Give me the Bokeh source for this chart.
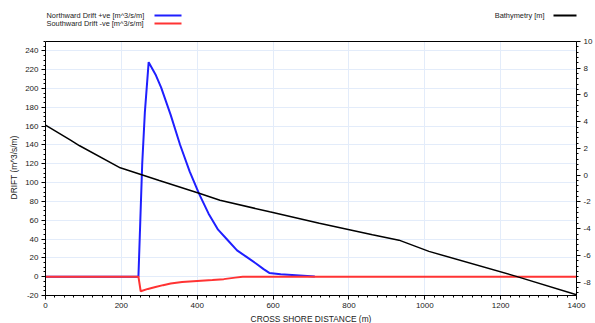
from bokeh.plotting import figure
from bokeh.models import (Range1d, LinearAxis, SingleIntervalTicker, Label, BoxAnnotation,
                          Span, PrintfTickFormatter)
from bokeh.embed import file_html
from bokeh.resources import INLINE

# ---- data ----
north_x = [0, 245, 250, 255, 262, 272, 290, 305, 330, 355, 380, 405, 430, 455, 480, 505, 530, 555, 575, 590, 620, 660, 710]
north_y = [0, 0, 60, 120, 175, 228, 215, 201, 172, 140, 112, 88, 67, 50, 39, 28, 21, 14, 8, 4, 2.5, 1.5, 0.3]

south_x = [0, 245, 251, 270, 290, 310, 330, 360, 400, 440, 470, 500, 520, 1400]
south_y = [0, 0, -15.5, -13, -11, -9, -7.2, -5.6, -4.6, -3.6, -2.6, -1.0, 0, 0]

bathy_x = [0, 66, 90, 197, 300, 407, 460, 591, 722, 862, 932, 1011, 1239, 1400]
bathy_y = [3.74, 2.62, 2.2, 0.55, -0.4, -1.37, -1.87, -2.74, -3.6, -4.45, -4.86, -5.7, -7.55, -8.95]

x_label = "CROSS SHORE DISTANCE (m)"
y_label = "DRIFT (m^3/s/m)"
north_name = "Northward Drift +ve  [m^3/s/m]"
south_name = "Southward Drift -ve  [m^3/s/m]"
bathy_name = "Bathymetry  [m]"

X_MIN, X_MAX = 0, 1400
Y_MIN, Y_MAX = -20, 250
B_MIN, B_MAX = -9, 10

FONT = "Liberation Sans"
GRID = "#e3ecfa"
BLUE = "#1f1fff"
RED = "#ff3333"

# plot box is 254 px tall; the frame is extended upward by 37 px to host the legend
BOX_H = 254
EXTRA = 37
FH = BOX_H + EXTRA
y_top = Y_MAX + EXTRA * (Y_MAX - Y_MIN) / BOX_H
b_top = B_MAX + EXTRA * (B_MAX - B_MIN) / BOX_H

p = figure(width=595, frame_height=FH, output_backend="svg", toolbar_location=None,
           x_range=Range1d(X_MIN, X_MAX), y_range=Range1d(Y_MIN, y_top),
           min_border_left=45, min_border_top=4, min_border_bottom=28, min_border_right=17,
           outline_line_color=None)
p.extra_y_ranges = {"bathy": Range1d(B_MIN, b_top)}

p.xaxis.ticker = SingleIntervalTicker(interval=200, num_minor_ticks=8)
p.yaxis.ticker = SingleIntervalTicker(interval=20, num_minor_ticks=4)
p.yaxis.bounds = (Y_MIN, Y_MAX)

raxis = LinearAxis(y_range_name="bathy", ticker=SingleIntervalTicker(interval=2, num_minor_ticks=5),
                   bounds=(B_MIN, B_MAX))
p.add_layout(raxis, "right")

for ax in [p.xaxis[0], p.yaxis[0], raxis]:
    ax.formatter = PrintfTickFormatter(format="%d")
    ax.major_label_text_font = FONT
    ax.major_label_text_font_size = "8px"
    ax.major_label_text_color = "#222222"
    ax.axis_line_color = "black"
    ax.major_tick_line_color = "black"
    ax.minor_tick_line_color = "black"
    ax.major_tick_out = 4
    ax.major_tick_in = 0
    ax.minor_tick_out = 2
    ax.minor_tick_in = 0
    ax.major_label_standoff = 3
    ax.axis_label_text_font = FONT
    ax.axis_label_text_font_size = "8.4px"
    ax.axis_label_text_font_style = "normal"
    ax.axis_label_text_color = "#222222"
    ax.axis_label_standoff = 3

p.xaxis[0].axis_label = x_label
# trailing no-break spaces keep the rotated title centred on the plot box, not on the taller frame
p.yaxis[0].axis_label = y_label + "\u00a0" * 15

p.xgrid.grid_line_color = GRID
p.ygrid.grid_line_color = GRID
p.xgrid.cross_bounds = (Y_MIN, Y_MAX)
p.ygrid.bounds = (Y_MIN, Y_MAX)

# top border of the plot box
p.add_layout(Span(location=Y_MAX, dimension="width", line_color="black", line_width=1))

p.line(north_x, north_y, line_color=BLUE, line_width=2)
p.line(south_x, south_y, line_color=RED, line_width=2)
p.line(bathy_x, bathy_y, line_color="black", line_width=1.5, y_range_name="bathy")

# ---- legends (text then line sample), screen units relative to the frame ----
def add_entry(x_text, y, text, color, x0, x1, align="left"):
    p.add_layout(Label(x=x_text, y=y, x_units="screen", y_units="screen", text=text,
                       text_font=FONT, text_font_size="7.4px", text_color="#222222",
                       text_baseline="middle", text_align=align))
    p.add_layout(BoxAnnotation(left=x0, right=x1, bottom=y - 1, top=y + 1,
                               left_units="screen", right_units="screen",
                               bottom_units="screen", top_units="screen",
                               fill_color=color, fill_alpha=1, line_color=None))

add_entry(1, FH - 11, north_name, BLUE, 109, 136)
add_entry(1, FH - 19, south_name, RED, 109, 136)
add_entry(501, FH - 11, bathy_name, "black", 508, 535, align="right")

open("out.html", "w").write(file_html(p, INLINE))
